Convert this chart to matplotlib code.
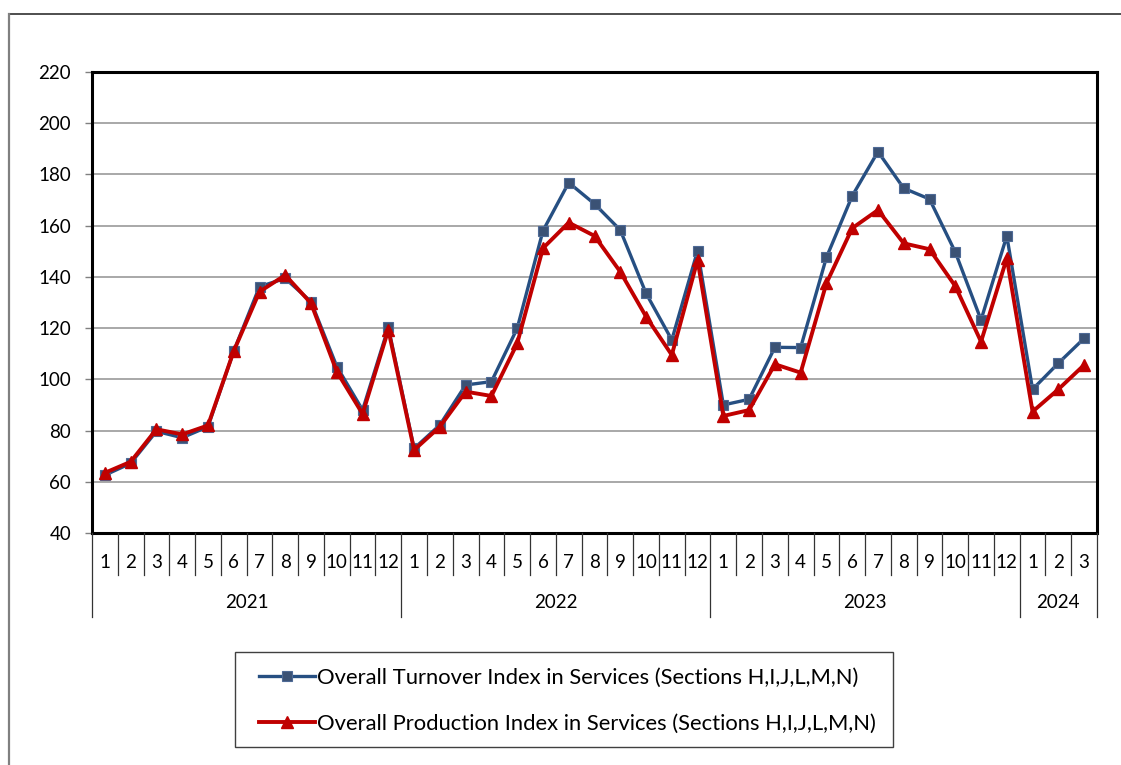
import matplotlib
matplotlib.use("Agg")
import matplotlib.pyplot as plt
import matplotlib.transforms as mtransforms
from matplotlib.lines import Line2D
from matplotlib.patches import Rectangle

plt.rcParams['font.family'] = ['Lato', 'DejaVu Sans']

years = ["2021", "2022", "2023", "2024"]
months_per_year = [12, 12, 12, 3]
month_labels = [str(m) for n in months_per_year for m in range(1, n + 1)]

turnover = [62.6, 67.2, 79.7, 77.2, 81.5, 111.0, 136.2, 139.4, 130.3, 105.0, 88.0, 120.3,
            73.0, 82.2, 97.8, 99.1, 119.9, 158.0, 176.8, 168.5, 158.3, 133.6, 115.4, 150.2,
            90.0, 92.2, 112.5, 112.4, 147.6, 171.6, 188.9, 174.6, 170.4, 149.7, 123.2, 156.0,
            96.1, 106.3, 116.0]
production = [63.5, 67.8, 80.5, 78.5, 82.0, 111.0, 134.2, 140.7, 129.7, 103.0, 86.5, 119.3,
              72.4, 81.5, 95.2, 93.5, 114.0, 151.2, 161.2, 156.0, 142.0, 124.5, 109.5, 146.6,
              85.7, 88.0, 105.9, 102.6, 137.5, 159.0, 166.1, 153.1, 150.8, 136.4, 114.7, 147.3,
              87.4, 96.1, 105.6]
series_names = ["Overall Turnover Index in Services (Sections H,I,J,L,M,N)",
                "Overall Production Index in Services (Sections H,I,J,L,M,N)"]
yticks = [40, 60, 80, 100, 120, 140, 160, 180, 200, 220]

W, H = 1121, 765
fig = plt.figure(figsize=(W / 100, H / 100), dpi=100)
fig.patch.set_facecolor("white")

# outer chart-area border
fig.add_artist(Line2D([9 / W, 1.0], [1 - 14 / H, 1 - 14 / H], transform=fig.transFigure,
                      color="#404040", lw=1.3))
fig.add_artist(Line2D([9 / W, 9 / W], [0, 1 - 14 / H], transform=fig.transFigure,
                      color="#808080", lw=1.6))

ax = fig.add_axes([92 / W, 1 - 533 / H, (1097 - 92) / W, (533 - 72) / H])
x = list(range(len(month_labels)))

ax.plot(x, turnover, color="#264F82", lw=2.4, marker="s", markersize=7.5,
        markerfacecolor="#3B5275", markeredgecolor="#4E6A96", markeredgewidth=0.8,
        zorder=3, label=series_names[0])
ax.plot(x, production, color="#C00000", lw=2.8, marker="^", markersize=8,
        markerfacecolor="#C00000", markeredgecolor="#C00000", zorder=4,
        label=series_names[1])

ax.set_xlim(-0.5, len(x) - 0.5)
ax.set_ylim(40, 220)
ax.set_yticks(yticks)
ax.set_yticklabels([str(v) for v in yticks], fontsize=13.5)
ax.tick_params(axis="y", length=5, width=1, color="#808080", pad=10)
ax.set_xticks([])
ax.grid(axis="y", color="#9A9A9A", lw=1.2)
ax.set_axisbelow(True)
for s in ax.spines.values():
    s.set_linewidth(2.2)
    s.set_color("black")

# two-level category axis
trans = mtransforms.blended_transform_factory(ax.transData, fig.transFigure)
y_top = 1 - 533 / H
y_month = 1 - 575 / H
y_year = 1 - 617 / H
for i, lab in enumerate(month_labels):
    ax.text(i, 1 - 562 / H, lab, transform=trans, ha="center", va="center", fontsize=13.5)
boundaries = [-0.5]
for n in months_per_year:
    boundaries.append(boundaries[-1] + n)
year_edges = set(boundaries)
for i in range(len(month_labels) + 1):
    b = i - 0.5
    bottom = y_year if b in year_edges else y_month
    fig.add_artist(Line2D([b, b], [y_top, bottom], transform=trans, color="#333333", lw=0.9))
for k, yr in enumerate(years):
    c = (boundaries[k] + boundaries[k + 1]) / 2
    ax.text(c, 1 - 603 / H, yr, transform=trans, ha="center", va="center", fontsize=13.5)

# legend frame and entries
fig.add_artist(Rectangle((235 / W, 1 - 747 / H), (893 - 235) / W, (747 - 652) / H,
                         transform=fig.transFigure, facecolor="white", edgecolor="#404040",
                         lw=1.0, zorder=1))
leg = fig.legend(loc="center left", bbox_to_anchor=(259 / W, 1 - 701 / H),
                 frameon=False, fontsize=15.8, handlelength=2.55, handletextpad=0.1,
                 labelspacing=1.18, borderpad=0, borderaxespad=0)
leg.set_zorder(2)

fig.savefig("out.png", dpi=100, facecolor="white")
